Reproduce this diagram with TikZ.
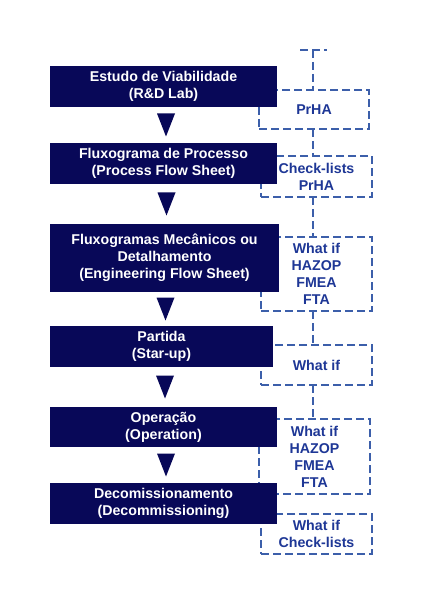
\documentclass[tikz,border=0pt]{standalone}
\usepackage{fontspec}
\setmainfont{Liberation Sans}
\usetikzlibrary{calc}
\definecolor{navy}{RGB}{8,8,88}
\definecolor{dashblue}{RGB}{60,95,170}
\definecolor{txtblue}{RGB}{30,55,150}
\tikzset{
  stage/.style={fill=navy, text=white, font=\fontsize{14.2}{17}\selectfont\bfseries,
    align=center, inner sep=0pt, outer sep=0pt},
  tech/.style={draw=dashblue, dash pattern=on 8pt off 4pt, line width=1.2pt,
    text=txtblue, font=\fontsize{14.2}{17}\selectfont\bfseries,
    align=center, inner sep=0pt, outer sep=0pt},
  link/.style={draw=dashblue, dash pattern=on 8pt off 4pt, line width=1.2pt},
  tri/.style={fill=navy}
}
\newcommand{\downtri}[2]{%
  \fill[tri] ($($(#1.south)!0.5!(#2.north)$)+(-6.5,-11.5)$) --
             ($($(#1.south)!0.5!(#2.north)$)+(11.5,-11.5)$) --
             ($($(#1.south)!0.5!(#2.north)$)+(2.5,11.5)$) -- cycle;}
\begin{document}
\begin{tikzpicture}[x=1pt,y=-1pt]
\useasboundingbox[fill=white] (0,0) rectangle (425,612);
% technique boxes (behind)
\node[tech, minimum width=110pt, minimum height=39pt] (D1) at (314,109.5) {PrHA};
\node[tech, minimum width=111pt, minimum height=41pt] (D2) at (316.5,176.5) {Check-lists\\PrHA};
\node[tech, minimum width=111pt, minimum height=74pt] (D3) at (316.5,274) {What if\\HAZOP\\FMEA\\FTA};
\node[tech, minimum width=111pt, minimum height=40pt] (D4) at (316.5,365) {What if};
\node[tech, minimum width=111pt, minimum height=75pt] (D5) at (314.5,456.5) {What if\\HAZOP\\FMEA\\FTA};
\node[tech, minimum width=111pt, minimum height=40pt] (D6) at (316.5,534) {What if\\Check-lists};
% stage boxes
\node[stage, minimum width=227pt, minimum height=41pt] (B1) at (163.5,86.5) {Estudo de Viabilidade\\(R\&D Lab)};
\node[stage, minimum width=227pt, minimum height=41pt] (B2) at (163.5,163.5) {Fluxograma de Processo\\(Process Flow Sheet)};
\node[stage, minimum width=229pt, minimum height=68pt] (B3) at (164.5,258) {Fluxogramas Mecânicos ou\\Detalhamento\\(Engineering Flow Sheet)};
\node[stage, minimum width=223pt, minimum height=41pt] (B4) at (161.5,346.5) {Partida\\(Star-up)};
\node[stage, minimum width=227pt, minimum height=40pt] (B5) at (163.5,427) {Operação\\(Operation)};
\node[stage, minimum width=227pt, minimum height=41pt] (B6) at (163.5,503.5) {Decomissionamento\\(Decommissioning)};
% arrows
\downtri{B1}{B2}
\downtri{B2}{B3}
\downtri{B3}{B4}
\downtri{B4}{B5}
\downtri{B5}{B6}
% connectors
\coordinate (top) at (313,50);
\coordinate (tl) at (300,50);
\coordinate (tr) at (327,50);
\draw[link] (tl) -- (tr);
\draw[link] (top) -- (top |- D1.north);
\draw[link] (top |- D1.south) -- (top |- D2.north);
\draw[link] (top |- D2.south) -- (top |- D3.north);
\draw[link] (top |- D3.south) -- (top |- D4.north);
\draw[link] (top |- D4.south) -- (top |- D5.north);
\end{tikzpicture}
\end{document}
